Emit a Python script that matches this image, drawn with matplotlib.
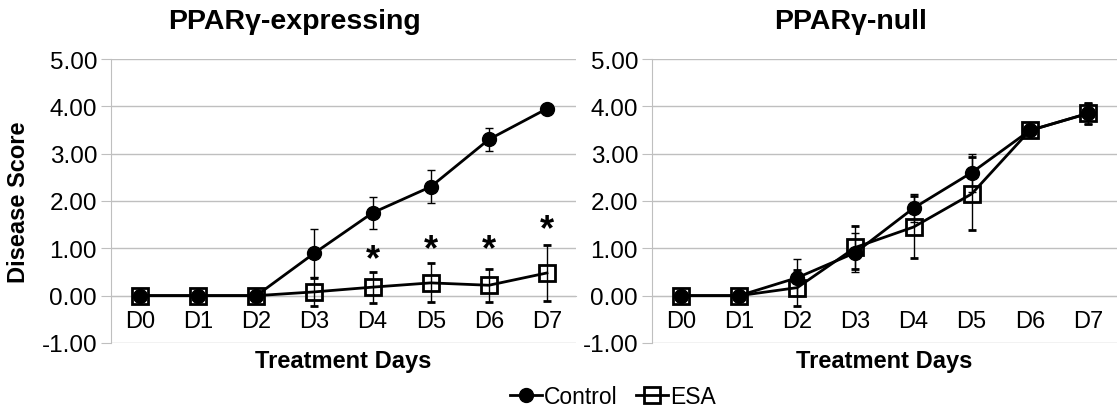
import numpy as np
import matplotlib
matplotlib.use('Agg')
import matplotlib.pyplot as plt
from matplotlib.lines import Line2D

plt.rcParams['font.family'] = ['Liberation Sans', 'DejaVu Sans']

days = ['D0', 'D1', 'D2', 'D3', 'D4', 'D5', 'D6', 'D7']

# PPARγ-expressing
exp_ctrl = [0, 0, 0, 0.90, 1.75, 2.30, 3.30, 3.95]
exp_ctrl_err = [0, 0, 0, 0.50, 0.34, 0.35, 0.25, 0.07]
exp_esa = [0, 0, 0, 0.08, 0.18, 0.27, 0.22, 0.48]
exp_esa_err = [0, 0, 0, 0.30, 0.33, 0.41, 0.35, 0.60]
star_days = [4, 5, 6, 7]
star_y = [0.93, 1.14, 1.14, 1.56]

# PPARγ-null
null_ctrl = [0, 0, 0.38, 0.91, 1.85, 2.60, 3.49, 3.85]
null_ctrl_err = [0, 0, 0.39, 0.41, 0.30, 0.40, 0.05, 0.22]
null_esa = [0, 0, 0.17, 1.02, 1.45, 2.15, 3.49, 3.85]
null_esa_err = [0, 0, 0.38, 0.45, 0.66, 0.77, 0.05, 0.22]

grid_c = '#bfbfbf'
fs = 17.5

fig = plt.figure(figsize=(11.17, 4.10), dpi=100)
W, H = 1117, 410
ax1 = fig.add_axes([111 / W, 66 / H, 465 / W, 284 / H])
ax2 = fig.add_axes([652 / W, 66 / H, 465 / W, 284 / H])


def draw(ax, ctrl, ctrl_err, esa, esa_err):
    x = np.arange(len(days))
    ax.errorbar(x, ctrl, yerr=ctrl_err, color='black', marker='o', markersize=10,
                linewidth=2, elinewidth=1, capsize=3, capthick=1, zorder=3)
    ax.errorbar(x, esa, yerr=esa_err, color='black', marker='s', markersize=11,
                mfc='none', mec='black', mew=2, linewidth=2, elinewidth=1,
                capsize=3, capthick=1, zorder=4)
    ax.set_xlim(-0.5, 7.5)
    ax.set_ylim(-1, 5)
    ax.set_yticks(np.arange(-1, 6, 1))
    ax.set_yticklabels(['%.2f' % v for v in np.arange(-1, 6, 1)])
    ax.set_xticks(x)
    ax.set_xticklabels(days)
    ax.grid(axis='y', color=grid_c, linewidth=1)
    ax.set_axisbelow(True)
    for s in ['top', 'right']:
        ax.spines[s].set_visible(False)
    ax.spines['left'].set_color(grid_c)
    ax.spines['bottom'].set_color(grid_c)
    ax.spines['bottom'].set_position(('data', 0))
    ax.tick_params(axis='y', length=7, color=grid_c, labelsize=fs, pad=3)
    ax.tick_params(axis='x', length=0, labelsize=17, pad=10)
    ax.set_xlabel('Treatment Days', fontsize=17, fontweight='bold')
    ax.xaxis.set_label_coords(0.5, -0.022)


draw(ax1, exp_ctrl, exp_ctrl_err, exp_esa, exp_esa_err)
draw(ax2, null_ctrl, null_ctrl_err, null_esa, null_esa_err)

for d, y in zip(star_days, star_y):
    ax1.text(d, y - 0.36, '*', ha='center', va='baseline', fontsize=26, fontweight='bold')

ax1.set_ylabel('Disease Score', fontsize=17, fontweight='bold')
ax1.yaxis.set_label_coords(-0.175, 0.5)

fig.text(295 / W, 1 - 22 / H, 'PPARγ-expressing', ha='center', va='center',
         fontsize=20.5, fontweight='bold')
fig.text(851 / W, 1 - 22 / H, 'PPARγ-null', ha='center', va='center',
         fontsize=20.5, fontweight='bold')

handles = [Line2D([], [], color='black', marker='o', markersize=10, linewidth=2),
           Line2D([], [], color='black', marker='s', markersize=11, mfc='none', mew=2, linewidth=2)]
fig.legend(handles, ['Control', 'ESA'], loc='center', bbox_to_anchor=(613 / W, 12 / H),
           ncol=2, frameon=False, fontsize=16.5, handlelength=1.4, handletextpad=0.1,
           columnspacing=0.8, borderpad=0)

fig.savefig('out.png', dpi=100)
